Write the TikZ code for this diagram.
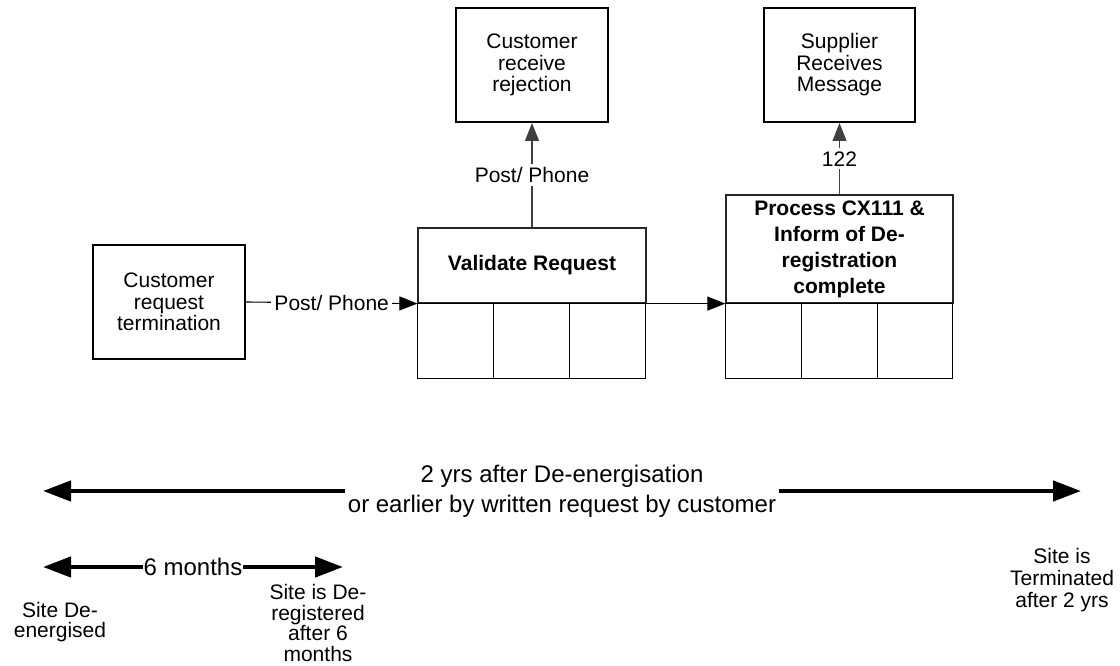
\documentclass[tikz,border=0pt]{standalone}
\usepackage{fontspec}
\setmainfont{Liberation Sans}
\usetikzlibrary{positioning, arrows.meta}

\tikzset{
    box/.style={draw, line width=2pt, align=center, inner sep=2pt,
        font=\fontsize{21}{21.5}\selectfont},
    head/.style={draw=black!85, line width=1.2pt, align=center, inner sep=2pt,
        font=\fontsize{21}{26}\selectfont\bfseries},
    cell/.style={draw, line width=1.4pt, minimum width=76pt, minimum height=75pt,
        inner sep=0pt, outer sep=0pt},
    flow/.style={line width=1.1pt, -{Triangle[length=18pt,width=14pt]}},
    span/.style={line width=4.5pt, {Triangle[length=28pt,width=20pt]}-{Triangle[length=28pt,width=20pt]}},
    lbl/.style={fill=white, inner sep=3pt, font=\fontsize{21}{21.5}\selectfont},
    note/.style={align=center, inner sep=0pt, font=\fontsize{21}{20.5}\selectfont}
}

\begin{document}
\begin{tikzpicture}[x=1pt, y=-1pt]
    \useasboundingbox (0,0) rectangle (1120,666);

    % process boxes
    \node[box, minimum width=152pt, minimum height=114pt] (cust) at (169,302) {Customer\\request\\termination};
    \node[box, minimum width=152pt, minimum height=114pt] (rej) at (532,65) {Customer\\receive\\rejection};
    \node[box, minimum width=151pt, minimum height=114pt] (sup) at (839.5,65) {Supplier\\Receives\\Message};

    \node[head, minimum width=228pt, minimum height=75pt] (vhead) at (532,265.5) {Validate Request};
    \node[cell, anchor=north west] (v1) at (vhead.south west) {};
    \node[cell, right=0pt of v1] (v2) {};
    \node[cell, right=0pt of v2] (v3) {};

    \node[head, minimum width=227pt, minimum height=108pt] (phead) at (839.5,249) {Process CX111 \&\\Inform of De-\\registration\\complete};
    \node[cell, anchor=north west] (p1) at (phead.south west) {};
    \node[cell, right=0pt of p1] (p2) {};
    \node[cell, minimum width=75pt, right=0pt of p2] (p3) {};

    % connectors
    \draw[flow] (cust.east) -- node[lbl] {Post/ Phone} (vhead.south west);
    \draw[flow, draw=black!75] (vhead.north) -- node[lbl] {Post/ Phone} (rej.south);
    \draw[flow, draw=black!75] (phead.north) -- node[lbl] {122} (sup.south);
    \draw[flow] (vhead.south east) -- (phead.south west);

    % time line
    \coordinate (start) at (43,491);
    \coordinate (stop) at (1081,491);
    \coordinate (sixstart) at (43,567);
    \coordinate (sixstop) at (343,567);

    \draw[span] (start) -- node[fill=white, align=center, inner xsep=3pt, inner ysep=0pt,
        font=\fontsize{24}{30}\selectfont] {2 yrs after De-energisation\\or earlier by written request by customer} (stop);
    \draw[span] (sixstart) -- node[fill=white, inner sep=1pt, font=\fontsize{24}{26}\selectfont] {6 months} (sixstop);

    \node[note] (deen) at (60,622) {Site De-\\energised};
    \node[note] (dereg) at (318,623) {Site is De-\\registered\\after 6\\months};
    \node[note, font=\fontsize{21}{22}\selectfont] (term) at (1062,580) {Site is\\Terminated\\after 2 yrs};
\end{tikzpicture}
\end{document}
